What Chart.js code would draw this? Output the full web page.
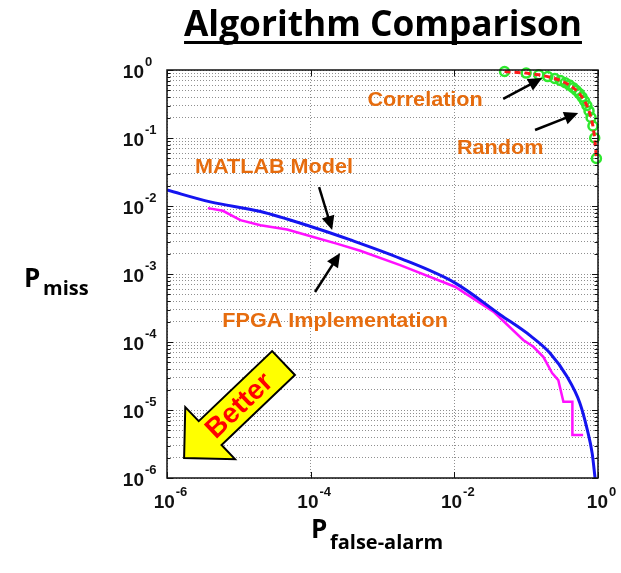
<!DOCTYPE html>
<html>
<head>
<meta charset="utf-8">
<title>Algorithm Comparison</title>
<script src="https://cdn.jsdelivr.net/npm/chart.js@4.4.1/dist/chart.umd.min.js"></script>
<style>
  body { margin: 0; background: #fff; }
  canvas { display: block; }
</style>
</head>
<body>
<canvas id="roc" width="621" height="573"></canvas>
<script>
// axis ticks (powers of ten) and the exponents shown on the labels
const xMajorTicks = [1e-6, 1e-4, 1e-2, 1];
const xTickExp = ['-6', '-4', '-2', '0'];
const yMajorTicks = [1e-6, 1e-5, 1e-4, 1e-3, 1e-2, 1e-1, 1];
const yTickExp = ['-6', '-5', '-4', '-3', '-2', '-1', '0'];
const minorSteps = [2, 3, 4, 5, 6, 7, 8, 9];

// MATLAB model (blue)
const matlabPfa   = [1e-6, 4.0e-6, 2.0e-5, 1e-4, 3.5e-4, 1.76e-3, 0.0102, 0.044, 0.115, 0.214, 0.37, 0.56, 0.71, 0.83, 0.91];
const matlabPmiss = [0.0172, 0.0115, 0.0083, 0.0050, 0.0032, 0.0017, 7.4e-4, 2.5e-4, 1.23e-4, 6.9e-5, 3.1e-5, 1.26e-5, 5.1e-6, 2.3e-6, 1.0e-6];

// FPGA implementation (magenta)
const fpgaPfa   = [3.7e-6, 6.0e-6, 1.05e-5, 2.0e-5, 4.7e-5, 1e-4, 2.3e-4, 4.9e-4, 1.76e-3, 0.0102, 0.035, 0.091, 0.126, 0.174, 0.23, 0.28, 0.33, 0.44, 0.44, 0.62];
const fpgaPmiss = [0.0093, 0.0085, 0.0062, 0.0052, 0.0045, 0.0036, 0.0028, 0.0022, 0.00135, 6.5e-4, 2.8e-4, 1.07e-4, 8.5e-5, 6.0e-5, 3.5e-5, 2.75e-5, 1.32e-5, 1.32e-5, 4.3e-6, 4.3e-6];

// Random (red dashed) and Correlation (green circles)
const randomPfa   = [0.05, 0.10, 0.15, 0.20, 0.25, 0.30, 0.35, 0.40, 0.45, 0.50, 0.55, 0.60, 0.65, 0.70, 0.75, 0.80, 0.85, 0.90, 0.95];
const randomPmiss = [0.95, 0.90, 0.85, 0.80, 0.75, 0.70, 0.65, 0.60, 0.55, 0.50, 0.45, 0.40, 0.35, 0.30, 0.25, 0.20, 0.15, 0.10, 0.05];
const corrPfa   = [0.05, 0.10, 0.15, 0.20, 0.25, 0.30, 0.35, 0.40, 0.45, 0.50, 0.55, 0.60, 0.65, 0.70, 0.75, 0.80, 0.85, 0.90, 0.95];
const corrPmiss = [0.95, 0.90, 0.85, 0.80, 0.75, 0.70, 0.65, 0.60, 0.55, 0.50, 0.45, 0.40, 0.35, 0.30, 0.25, 0.20, 0.15, 0.10, 0.05];

// text notes and arrows, placed in data coordinates
const notes = [
  { text: 'MATLAB Model', x: 3.09e-5, y: 0.0363 },
  { text: 'Correlation', x: 3.92e-3, y: 0.362 },
  { text: 'Random', x: 0.0435, y: 0.0713 },
  { text: 'FPGA Implementation', x: 2.19e-4, y: 1.97e-4 }
];
const arrows = [
  { from: [1.31e-4, 0.0190], to: [1.99e-4, 4.44e-3] },
  { from: [1.15e-4, 5.43e-4], to: [2.57e-4, 2.04e-3] },
  { from: [0.0479, 0.375], to: [0.167, 0.762] },
  { from: [0.133, 0.131], to: [0.530, 0.233] }
];
const betterArrow = { tip: [1.73e-6, 1.97e-6], tail: [4.19e-5, 4.91e-5] };

const pairs = (xs, ys) => xs.map((v, i) => ({ x: v, y: ys[i] }));

const withMinors = majors => {
  const out = [];
  majors.forEach((m, i) => {
    out.push(m);
    if (i < majors.length - 1) minorSteps.forEach(s => out.push(m * s));
  });
  return out;
};

const FONT = '"Liberation Sans", Arial, sans-serif';
const LABEL_FONT = '"Open Sans", sans-serif';

function drawArrow(ctx, x1, y1, x2, y2) {
  const ang = Math.atan2(y2 - y1, x2 - x1);
  const hl = 14, hw = 6.5;
  const c = Math.cos(ang), s = Math.sin(ang);
  ctx.beginPath();
  ctx.moveTo(x1, y1);
  ctx.lineTo(x2 - hl * 0.8 * c, y2 - hl * 0.8 * s);
  ctx.stroke();
  ctx.beginPath();
  ctx.moveTo(x2, y2);
  ctx.lineTo(x2 - hl * c + hw * s, y2 - hl * s - hw * c);
  ctx.lineTo(x2 - hl * c - hw * s, y2 - hl * s + hw * c);
  ctx.closePath();
  ctx.fill();
}

// "10" with a raised exponent
function powerLabel(ctx, exp, x, baseY, mode) {
  ctx.font = 'bold 19px ' + FONT;
  const w1 = ctx.measureText('10').width;
  ctx.font = 'bold 13px ' + FONT;
  const w2 = ctx.measureText(exp).width;
  let left = mode === 'center' ? x - (w1 + w2) / 2 + 3 : x - w1;
  ctx.textAlign = 'left';
  ctx.textBaseline = 'alphabetic';
  ctx.font = 'bold 19px ' + FONT;
  ctx.fillText('10', left, baseY);
  ctx.font = 'bold 13px ' + FONT;
  ctx.fillText(exp, left + w1 + 1, baseY - 12);
}

const decor = {
  id: 'decor',
  beforeDraw(chart) {
    const ctx = chart.ctx;
    ctx.save();
    ctx.fillStyle = '#fff';
    ctx.fillRect(0, 0, chart.width, chart.height);
    ctx.restore();
  },
  afterDatasetsDraw(chart) {
    const { ctx, chartArea: a, scales: { x, y } } = chart;
    ctx.save();

    // frame
    ctx.strokeStyle = '#111';
    ctx.lineWidth = 1.5;
    ctx.strokeRect(a.left, a.top, a.right - a.left, a.bottom - a.top);

    // inward tick marks
    ctx.lineWidth = 1;
    withMinors(yMajorTicks).forEach(v => {
      const py = Math.round(y.getPixelForValue(v)) + 0.5;
      const len = yMajorTicks.includes(v) ? 6 : 3.5;
      ctx.beginPath();
      ctx.moveTo(a.left, py); ctx.lineTo(a.left + len, py);
      ctx.moveTo(a.right, py); ctx.lineTo(a.right - len, py);
      ctx.stroke();
    });
    xMajorTicks.forEach(v => {
      const px = Math.round(x.getPixelForValue(v)) + 0.5;
      ctx.beginPath();
      ctx.moveTo(px, a.bottom); ctx.lineTo(px, a.bottom - 6);
      ctx.moveTo(px, a.top); ctx.lineTo(px, a.top + 6);
      ctx.stroke();
    });

    // tick labels
    ctx.fillStyle = '#111';
    yMajorTicks.forEach((v, i) => {
      powerLabel(ctx, yTickExp[i], a.left - 23, y.getPixelForValue(v) + 8, 'right');
    });
    xMajorTicks.forEach((v, i) => {
      powerLabel(ctx, xTickExp[i], x.getPixelForValue(v), a.bottom + 30, 'center');
    });

    // orange notes
    ctx.fillStyle = '#e66c0e';
    ctx.font = 'bold 20px ' + FONT;
    ctx.textAlign = 'center';
    ctx.textBaseline = 'middle';
    notes.forEach(n => {
      const px = x.getPixelForValue(n.x), py = y.getPixelForValue(n.y);
      ctx.save();
      ctx.translate(px, py);
      ctx.scale(1.08, 1);
      ctx.fillText(n.text, 0, 0);
      ctx.restore();
    });

    // black arrows
    ctx.strokeStyle = '#000';
    ctx.fillStyle = '#000';
    ctx.lineWidth = 2.5;
    arrows.forEach(ar => {
      drawArrow(ctx,
        x.getPixelForValue(ar.from[0]), y.getPixelForValue(ar.from[1]),
        x.getPixelForValue(ar.to[0]), y.getPixelForValue(ar.to[1]));
    });

    // yellow "Better" arrow
    const tx = x.getPixelForValue(betterArrow.tip[0]), ty = y.getPixelForValue(betterArrow.tip[1]);
    const bx = x.getPixelForValue(betterArrow.tail[0]), by = y.getPixelForValue(betterArrow.tail[1]);
    const L = Math.hypot(bx - tx, by - ty);
    const ang = Math.atan2(by - ty, bx - tx);
    ctx.save();
    ctx.translate(tx, ty);
    ctx.rotate(ang);
    ctx.beginPath();
    ctx.moveTo(0, 0);
    ctx.lineTo(36, -36);
    ctx.lineTo(36, -16.5);
    ctx.lineTo(L, -16.5);
    ctx.lineTo(L, 16.5);
    ctx.lineTo(36, 16.5);
    ctx.lineTo(36, 36);
    ctx.closePath();
    ctx.fillStyle = '#ffff00';
    ctx.fill();
    ctx.lineWidth = 2;
    ctx.lineJoin = 'miter';
    ctx.strokeStyle = '#000';
    ctx.stroke();
    ctx.fillStyle = '#ff0000';
    ctx.font = 'bold 28px ' + FONT;
    ctx.textAlign = 'center';
    ctx.textBaseline = 'middle';
    ctx.fillText('Better', 76, 1);
    ctx.restore();

    // title
    ctx.fillStyle = '#000';
    ctx.font = 'bold 36px ' + LABEL_FONT;
    ctx.textAlign = 'center';
    ctx.textBaseline = 'alphabetic';
    const tw = ctx.measureText('Algorithm Comparison').width;
    ctx.save();
    ctx.translate(383, 36);
    ctx.scale(0.98, 1);
    ctx.fillText('Algorithm Comparison', 0, 0);
    ctx.fillRect(-tw / 2, 5, tw, 3);
    ctx.restore();

    // axis labels
    ctx.textAlign = 'left';
    ctx.font = 'bold 26px ' + LABEL_FONT;
    ctx.fillText('P', 24, 287);
    ctx.font = 'bold 20px ' + LABEL_FONT;
    ctx.fillText('miss', 43, 295);

    ctx.font = 'bold 26px ' + LABEL_FONT;
    ctx.fillText('P', 311, 538);
    ctx.font = 'bold 20px ' + LABEL_FONT;
    ctx.fillText('false-alarm', 330, 549);

    ctx.restore();
  }
};

const gridStyle = { color: '#8f8f8f', lineWidth: 1, drawTicks: false };

new Chart(document.getElementById('roc'), {
  type: 'scatter',
  data: {
    datasets: [
      {
        label: 'Random',
        data: pairs(randomPfa, randomPmiss),
        showLine: true,
        borderColor: '#ff1a1a',
        borderWidth: 3,
        borderDash: [6, 4],
        pointRadius: 0
      },
      {
        label: 'Correlation',
        data: pairs(corrPfa, corrPmiss),
        showLine: false,
        pointRadius: 4.5,
        pointBorderWidth: 2.5,
        pointBorderColor: '#2ee82e',
        pointBackgroundColor: 'rgba(0,0,0,0)',
        clip: false
      },
      {
        label: 'MATLAB Model',
        data: pairs(matlabPfa, matlabPmiss),
        showLine: true,
        borderColor: '#1414f0',
        borderWidth: 3,
        pointRadius: 0,
        cubicInterpolationMode: 'monotone'
      },
      {
        label: 'FPGA Implementation',
        data: pairs(fpgaPfa, fpgaPmiss),
        showLine: true,
        borderColor: '#ff10ff',
        borderWidth: 2.5,
        pointRadius: 0
      }
    ]
  },
  options: {
    responsive: false,
    animation: false,
    layout: { padding: { left: 167, right: 23, top: 70, bottom: 95 } },
    plugins: { legend: { display: false }, tooltip: { enabled: false } },
    scales: {
      x: {
        type: 'logarithmic',
        min: 1e-6,
        max: 1,
        afterBuildTicks: s => { s.ticks = xMajorTicks.map(v => ({ value: v })); },
        ticks: { display: false },
        grid: gridStyle,
        border: { display: false, dash: [1, 2] }
      },
      y: {
        type: 'logarithmic',
        min: 1e-6,
        max: 1,
        afterBuildTicks: s => { s.ticks = withMinors(yMajorTicks).map(v => ({ value: v })); },
        ticks: { display: false },
        grid: gridStyle,
        border: { display: false, dash: [1, 2] }
      }
    }
  },
  plugins: [decor]
});
</script>
</body>
</html>
